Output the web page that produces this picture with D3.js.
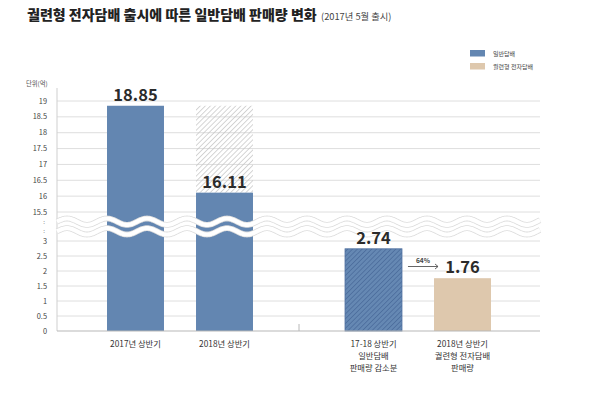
<!DOCTYPE html>
<html><head><meta charset="utf-8">
<script src="https://cdn.jsdelivr.net/npm/d3@7"></script>
<style>
html,body{margin:0;padding:0;background:#fff;}
svg{display:block;font-family:"Noto Sans CJK KR","Noto Sans",sans-serif;}
</style></head>
<body><svg id="chart" width="590" height="395"></svg>
<script>
// ---- data ----
const titleText = "궐련형 전자담배 출시에 따른 일반담배 판매량 변화";
const subtitleText = "(2017년 5월 출시)";
const unitLabel = "단위(억)";
const categories = ["2017년 상반기", "2018년 상반기", "17-18 상반기|일반담배|판매량 감소분", "2018년 상반기|궐련형 전자담배|판매량"];
const groupOf = ["left", "left", "right", "right"];
const values = [18.85, 16.11, 2.74, 1.76];
const ghostValues = [null, 18.85, null, null];
const barKinds = ["general", "general", "decrease", "heated"];
const upperTicks = [15.5, 16, 16.5, 17, 17.5, 18, 18.5, 19];
const lowerTicks = [0, 0.5, 1, 1.5, 2, 2.5, 3];
const legendLabels = ["일반담배", "궐련형 전자담배"];
const legendKinds = ["general", "heated"];
const shareLabel = "64%";

// ---- layout ----
const svg = d3.select("#chart");
const left = 57, right = 540;
const colors = {general: "#6386b1", decrease: "#6386b1", heated: "#dec8ad"};

const yLow = d3.scaleLinear().domain([0, 3]).range([331, 241]);
const yUp = d3.scaleLinear().domain([15.5, 19]).range([212, 101]);
const yv = v => v >= 15.5 ? yUp(v) : yLow(v);

const xGroup = d3.scaleBand().domain(["left", "right"]).range([61, 537]);
const xInner = d3.scaleBand().domain([0, 1]).range([0, xGroup.bandwidth()]).paddingInner(0.36).paddingOuter(0.517);
const idxInGroup = categories.map((c, i) => groupOf.slice(0, i).filter(g => g === groupOf[i]).length);
const xBar = i => xGroup(groupOf[i]) + xInner(idxInGroup[i]);
const bw = xInner.bandwidth();

// patterns
const defs = svg.append("defs");
const p1 = defs.append("pattern").attr("id", "hatchGhost").attr("patternUnits", "userSpaceOnUse")
  .attr("width", 3.6).attr("height", 3.6).attr("patternTransform", "rotate(45)");
p1.append("line").attr("x1", 0).attr("y1", 0).attr("x2", 0).attr("y2", 3.6)
  .attr("stroke", "#c4c4c4").attr("stroke-width", 1.4);
const p2 = defs.append("pattern").attr("id", "hatchDec").attr("patternUnits", "userSpaceOnUse")
  .attr("width", 3.4).attr("height", 3.4).attr("patternTransform", "rotate(45)");
p2.append("rect").attr("width", 3.4).attr("height", 3.4).attr("fill", "#6588b3");
p2.append("line").attr("x1", 0).attr("y1", 0).attr("x2", 0).attr("y2", 3.4)
  .attr("stroke", "#3f6091").attr("stroke-width", 1.1);

// title
const title = svg.append("text").attr("x", 27).attr("y", 20).attr("font-size", 14).attr("font-weight", 900)
  .attr("fill", "#222").text(titleText);
svg.append("text").attr("x", 321).attr("y", 20).attr("font-size", 9.3).attr("fill", "#444").text(subtitleText);

// unit
svg.append("text").attr("x", 26).attr("y", 86).attr("font-size", 6.3).attr("fill", "#555").text(unitLabel);

// gridlines
const allTicks = upperTicks.map(t => ({t, y: yUp(t)})).concat(lowerTicks.filter(t => t > 0).map(t => ({t, y: yLow(t)})));
svg.append("g").selectAll("line").data(allTicks).join("line")
  .attr("x1", left).attr("x2", right).attr("y1", d => d.y).attr("y2", d => d.y)
  .attr("stroke", "#dedede").attr("stroke-width", 1);

// y axis line
svg.append("line").attr("x1", left).attr("x2", left).attr("y1", 88).attr("y2", yLow(0))
  .attr("stroke", "#cfcfcf").attr("stroke-width", 1);

// tick labels
svg.append("g").selectAll("text").data(allTicks.concat([{t: 0, y: yLow(0)}])).join("text")
  .attr("x", 47).attr("y", d => d.y + 2.6).attr("text-anchor", "end")
  .attr("font-size", 7.4).attr("fill", "#444").text(d => d.t);

// bars
const gb = svg.append("g");
values.forEach((v, i) => {
  if (ghostValues[i] != null) {
    gb.append("rect").attr("x", xBar(i)).attr("width", bw)
      .attr("y", yv(ghostValues[i])).attr("height", yv(v) - yv(ghostValues[i]))
      .attr("fill", "url(#hatchGhost)");
  }
  gb.append("rect").attr("x", xBar(i)).attr("width", bw)
    .attr("y", yv(v)).attr("height", yLow(0) - yv(v))
    .attr("fill", barKinds[i] === "decrease" ? "url(#hatchDec)" : colors[barKinds[i]])
    .attr("stroke", barKinds[i] === "decrease" ? "#4f70a0" : "none").attr("stroke-width", 0.8);
});

// break waves
const breakYs = [yUp(15.5) + (yLow(3) - yUp(15.5)) / 3, yUp(15.5) + 2 * (yLow(3) - yUp(15.5)) / 3];
const period = 40, amp = 3.2;
breakYs.forEach(by => {
  const pts = [];
  for (let x = left; x <= right; x += 1) pts.push([x, by - amp * Math.sin((x - left) / period * 2 * Math.PI)]);
  const path = d3.line().curve(d3.curveBasis)(pts);
  svg.append("path").attr("d", path).attr("fill", "none").attr("stroke", "#dcdcdc").attr("stroke-width", 5.8);
  svg.append("path").attr("d", path).attr("fill", "none").attr("stroke", "#fff").attr("stroke-width", 4.2);
  svg.append("text").attr("x", 45).attr("y", by + 2).attr("text-anchor", "end")
    .attr("font-size", 6).attr("fill", "#666").text(":");
});

// bottom axis
svg.append("line").attr("x1", left).attr("x2", right).attr("y1", yLow(0)).attr("y2", yLow(0))
  .attr("stroke", "#b8b8b8").attr("stroke-width", 1.2);
svg.append("line").attr("x1", xGroup("right")).attr("x2", xGroup("right")).attr("y1", yLow(0) - 7).attr("y2", yLow(0))
  .attr("stroke", "#b8b8b8").attr("stroke-width", 1);

// value labels
svg.append("g").selectAll("text").data(values).join("text")
  .attr("x", (d, i) => xBar(i) + bw / 2).attr("y", (d, i) => yv(d) - 5)
  .attr("text-anchor", "middle").attr("font-size", 16.5).attr("font-weight", 700)
  .attr("fill", "#2b2b2b").text(d => d.toFixed(2));

// category labels
categories.forEach((c, i) => {
  const t = svg.append("text").attr("text-anchor", "middle").attr("font-size", 8.3).attr("fill", "#333");
  c.split("|").forEach((ln, k) => {
    t.append("tspan").attr("x", xBar(i) + bw / 2).attr("y", 347 + k * 11.8).text(ln);
  });
});

// share arrow
const ax0 = xBar(2) + bw + 6, ax1 = xBar(3) + 4, ay = 266.5;
svg.append("line").attr("x1", ax0).attr("x2", ax1).attr("y1", ay).attr("y2", ay).attr("stroke", "#555").attr("stroke-width", 0.9);
svg.append("path").attr("d", `M${ax1 - 3},${ay - 2.5}L${ax1},${ay}L${ax1 - 3},${ay + 2.5}`)
  .attr("fill", "none").attr("stroke", "#555").attr("stroke-width", 0.9);
svg.append("text").attr("x", (ax0 + ax1) / 2).attr("y", ay - 3.5).attr("text-anchor", "middle")
  .attr("font-size", 6.5).attr("font-weight", 700).attr("fill", "#444").text(shareLabel);

// legend
legendLabels.forEach((l, i) => {
  svg.append("rect").attr("x", 470).attr("y", 50 + i * 13).attr("width", 15).attr("height", 6.5)
    .attr("fill", colors[legendKinds[i]]);
  svg.append("text").attr("x", 493).attr("y", 55.5 + i * 13).attr("font-size", 6).attr("fill", "#444").text(l);
});
</script></body></html>
